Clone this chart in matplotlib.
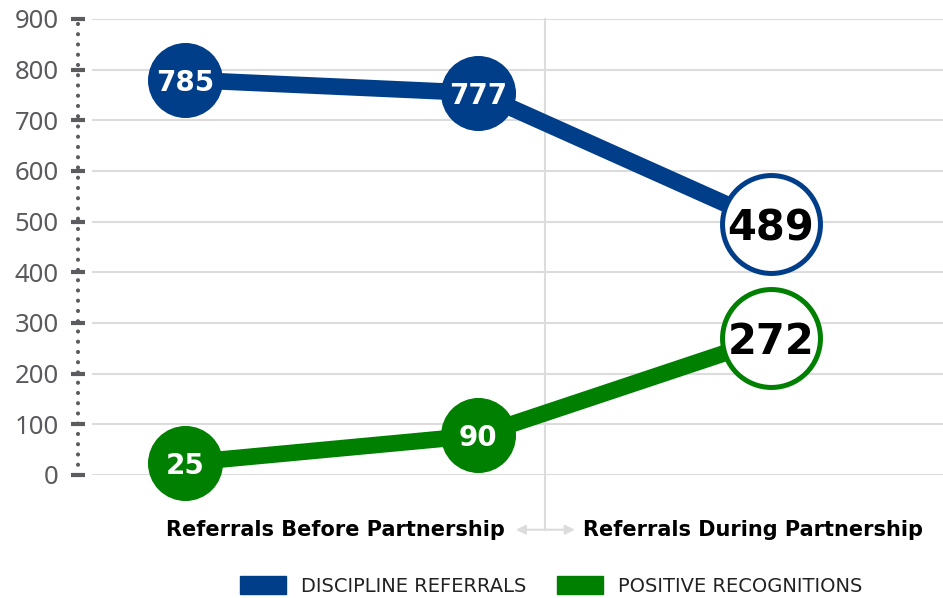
import matplotlib
matplotlib.use('Agg')
import matplotlib.pyplot as plt
from matplotlib.patches import Patch

periods = ['Referrals Before Partnership', 'Referrals During Partnership']
discipline = [780, 754, 495]
discipline_labels = ['785', '777', '489']
positive = [24, 78, 271]
positive_labels = ['25', '90', '272']
series_names = ['DISCIPLINE REFERRALS', 'POSITIVE RECOGNITIONS']
yticks = list(range(0, 1000, 100))

blue = '#003E8A'
green = '#008000'
grid_c = '#dcdcdc'
axis_c = '#5b5b60'

plt.rcParams['font.family'] = ['Noto Sans', 'DejaVu Sans']
bold_font = ['DejaVu Sans']

W, H = 943, 598
fig = plt.figure(figsize=(W / 100, H / 100), dpi=100)
ax = fig.add_axes([92 / W, (H - 475) / H, (W - 92) / W, 456 / H])

x = list(range(len(discipline)))
ax.set_xlim(-0.317, 2.587)
ax.set_ylim(0, 900)

# lines
ax.plot(x, discipline, color=blue, lw=12, zorder=3, clip_on=False, solid_capstyle='butt')
ax.plot(x, positive, color=green, lw=12, zorder=3, clip_on=False, solid_capstyle='butt')

# markers: first two filled, last one outlined
for vals, labs, c in [(discipline, discipline_labels, blue), (positive, positive_labels, green)]:
    ax.plot(x[:-1], vals[:-1], 'o', ms=53, color=c, mec=c, zorder=4, clip_on=False)
    ax.plot(x[-1:], vals[-1:], 'o', ms=70.5, mfc='white', mec=c, mew=3.6, zorder=4, clip_on=False)
    for xi, v, t in zip(x[:-1], vals[:-1], labs[:-1]):
        ax.text(xi, v, t, color='white', fontsize=20, fontweight='bold', family=bold_font,
                ha='center', va='center_baseline', zorder=5)
    ax.text(x[-1], vals[-1], labs[-1], color='black', fontsize=30, fontweight='bold',
            family=bold_font, ha='center', va='center_baseline', zorder=5)

# grid & axes
ax.set_yticks(yticks)
ax.yaxis.grid(True, color=grid_c, lw=1.5)
ax.set_axisbelow(True)
ax.set_xticks([])
for s in ['top', 'right', 'bottom']:
    ax.spines[s].set_visible(False)
ax.spines['left'].set_position(('outward', 10))
ax.spines['left'].set_color(axis_c)
ax.spines['left'].set_linewidth(3)
ax.spines['left'].set_linestyle((0, (0.01, 2.45)))
ax.spines['left'].set_capstyle('round')
ax.tick_params(axis='y', direction='inout', length=10, width=3, color=axis_c,
               pad=9, labelsize=18.5, labelcolor='#5a5a5e')

# divider between the two periods
div = 1.229
ax.axvline(div, ymin=-0.12, ymax=1, color=grid_c, lw=1.5, clip_on=False, zorder=1)
ax.annotate('', xy=(1.12, -0.12), xytext=(1.34, -0.12),
            xycoords=('data', 'axes fraction'), textcoords=('data', 'axes fraction'),
            arrowprops=dict(arrowstyle='<|-|>', color=grid_c, lw=1.5, mutation_scale=14),
            annotation_clip=False)
ax.text(1.092, -0.12, periods[0], transform=ax.get_xaxis_transform(), ha='right',
        va='center', fontsize=15, fontweight='bold', family=bold_font, color='black')
ax.text(1.358, -0.12, periods[1], transform=ax.get_xaxis_transform(), ha='left',
        va='center', fontsize=15, fontweight='bold', family=bold_font, color='black')

# legend
handles = [Patch(color=blue, label=series_names[0]), Patch(color=green, label=series_names[1])]
fig.legend(handles=handles, loc='center', bbox_to_anchor=(551 / W, 12 / H), ncol=2,
           frameon=False, handlelength=2.4, handleheight=1.0,
           handletextpad=0.75, columnspacing=1.55, labelcolor='#222222',
           prop={'family': 'DejaVu Sans', 'size': 14})

fig.savefig('out.png', dpi=100)
